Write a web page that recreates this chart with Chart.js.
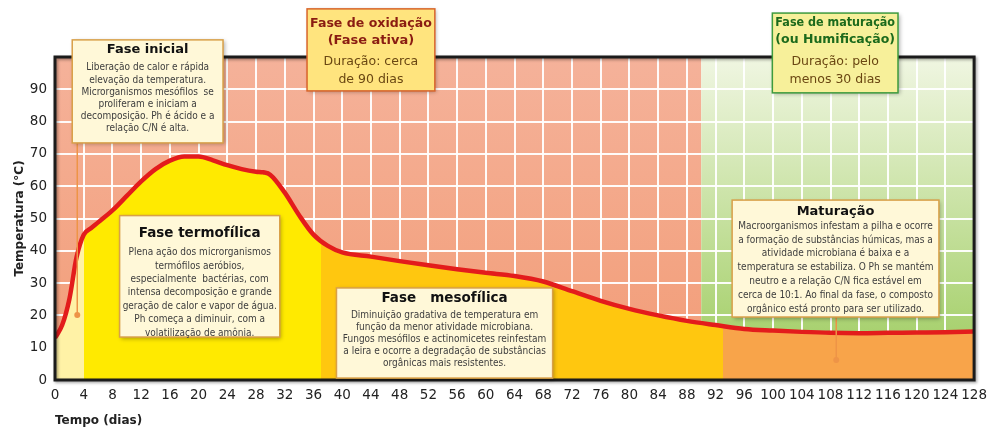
<!DOCTYPE html>
<html>
<head>
<meta charset="utf-8">
<script src="https://cdn.jsdelivr.net/npm/chart.js@4.4.1/dist/chart.umd.min.js"></script>
<style>
  html, body { margin: 0; padding: 0; background: #fff; }
  #wrap { width: 994px; height: 430px; }
</style>
</head>
<body>
<div id="wrap"><canvas id="compost-chart" width="994" height="430"></canvas></div>
<script>
// temperatura da leira ao longo do tempo
const days  = [0, 1, 2, 3, 4, 5, 6, 8, 10, 12, 14, 16, 18, 20, 22, 24, 26, 28, 29, 30, 32, 34, 36, 38, 40,
               44, 48, 52, 56, 60, 64, 68, 72, 76, 80, 84, 88, 92, 96, 100, 104, 108, 112, 116, 120, 124, 128];
const temps = [13, 17, 25, 38, 45, 47, 48.8, 52.5, 57, 61.5, 65.3, 67.9, 69.2, 69.2, 68, 66.5, 65.3, 64.5, 64.3, 63.5, 58, 51, 45, 41.5, 39.5,
               38.2, 36.8, 35.5, 34.3, 33.2, 32.2, 30.5, 27.5, 24.5, 22, 20, 18.3, 17, 15.8, 15.3, 14.9, 14.6, 14.5, 14.6, 14.7, 14.8, 15];

// fases (em dias) para o preenchimento sob a curva
const phaseBounds = [0, 4, 37, 93, 128];
const phaseColors = ['#fff2a6', '#ffea00', '#ffc70f', '#f8a44a'];

// fundo: fase de oxidação até 90 dias, maturação depois
const zoneBounds = [0, 90, 128];
const zoneColors = [['#f5b29a', '#f29c76'], ['#f0f6e2', '#9ccb5c']];

const xMin = 0, xMax = 128, xStep = 4;
const yMin = 0, yMax = 100, yStep = 10;

const FONT = "'DejaVu Sans', sans-serif";
const BODY_FONT = "'DejaVu Sans Condensed', 'DejaVu Sans', sans-serif";

const boxStyles = {
  cream:  { fill: '#fff8d8', border: '#d9a049', title: '#111', body: '#3d3d3d' },
  oxid:   { fill: '#ffe47e', border: '#d9652b', title: '#8a1c12', body: '#6a4712' },
  matur:  { fill: '#f7f09a', border: '#3e9b3e', title: '#1c6a1c', body: '#6a4712' }
};

// caixas de texto (coordenadas em dias / °C)
const notes = [
  { x0: 2.4, x1: 23.4, y0: 105.3, y1: 73.4, style: 'cream',
    title: ['Fase inicial'], titleSize: 13, titleY: 10, titleLead: 16,
    body: ['Liberação de calor e rápida', 'elevação da temperatura.', 'Microrganismos mesófilos  se',
           'proliferam e iniciam a', 'decomposição. Ph é ácido e a', 'relação C/N é alta.'],
    bodySize: 10, bodyY: 28, lead: 12.2, pin: { x: 3.1, y: 20.1 } },
  { x0: 35.1, x1: 52.9, y0: 114.9, y1: 89.5, style: 'oxid',
    title: ['Fase de oxidação', '(Fase ativa)'], titleSize: 13, titleY: 15, titleLead: 16.5,
    body: ['Duração: cerca', 'de 90 dias'], bodySize: 12.5, bodyY: 53, lead: 18 },
  { x0: 99.9, x1: 117.4, y0: 113.6, y1: 88.9, style: 'matur',
    title: ['Fase de maturação', '(ou Humificação)'], titleSize: 13, titleY: 10, titleLead: 17,
    body: ['Duração: pelo', 'menos 30 dias'], bodySize: 12.5, bodyY: 49, lead: 18 },
  { x0: 9.0, x1: 31.3, y0: 50.9, y1: 13.3, style: 'cream',
    title: ['Fase termofílica'], titleSize: 13.5, titleY: 18, titleLead: 16,
    body: ['Plena ação dos microrganismos', 'termófilos aeróbios,', 'especialmente  bactérias, com',
           'intensa decomposição e grande', 'geração de calor e vapor de água.', 'Ph começa a diminuir, com a',
           'volatilização de amônia.'],
    bodySize: 10, bodyY: 37, lead: 13.4 },
  { x0: 39.2, x1: 69.3, y0: 28.5, y1: 0.6, style: 'cream',
    title: ['Fase   mesofílica'], titleSize: 13.5, titleY: 11, titleLead: 16,
    body: ['Diminuição gradativa de temperatura em', 'função da menor atividade microbiana.',
           'Fungos mesófilos e actinomicetes reinfestam', 'a leira e ocorre a degradação de substâncias',
           'orgânicas mais resistentes.'],
    bodySize: 10, bodyY: 27, lead: 12 },
  { x0: 94.3, x1: 123.1, y0: 55.7, y1: 19.5, style: 'cream',
    title: ['Maturação'], titleSize: 13, titleY: 12, titleLead: 16,
    body: ['Macroorganismos infestam a pilha e ocorre', 'a formação de substâncias húmicas, mas a',
           'atividade microbiana é baixa e a', 'temperatura se estabiliza. O Ph se mantém',
           'neutro e a relação C/N fica estável em', 'cerca de 10:1. Ao final da fase, o composto',
           'orgânico está pronto para ser utilizado.'],
    bodySize: 10, bodyY: 26, lead: 13.9, pin: { x: 108.8, y: 6.2 } }
];

function phaseFill(context) {
  const chart = context.chart;
  const a = chart.chartArea, x = chart.scales.x;
  if (!a || !x) return phaseColors[1];
  const g = chart.ctx.createLinearGradient(a.left, 0, a.right, 0);
  const w = a.right - a.left;
  const f = v => Math.min(1, Math.max(0, (x.getPixelForValue(v) - a.left) / w));
  phaseColors.forEach((c, i) => {
    g.addColorStop(f(phaseBounds[i]), c);
    g.addColorStop(f(phaseBounds[i + 1]), c);
  });
  return g;
}

const zonePlugin = {
  id: 'zones',
  beforeDraw(chart) {
    const { ctx, chartArea: a, scales: { x } } = chart;
    ctx.save();
    zoneColors.forEach((c, i) => {
      const x0 = x.getPixelForValue(zoneBounds[i]);
      const x1 = x.getPixelForValue(zoneBounds[i + 1]);
      const g = ctx.createLinearGradient(0, a.top, 0, a.bottom);
      g.addColorStop(0, c[0]);
      g.addColorStop(1, c[1]);
      ctx.fillStyle = g;
      ctx.fillRect(x0, a.top, x1 - x0, a.bottom - a.top);
    });
    ctx.restore();
  }
};

const framePlugin = {
  id: 'frame',
  afterDatasetsDraw(chart) {
    const { ctx, chartArea: a } = chart;
    ctx.save();
    ctx.shadowColor = 'rgba(0,0,0,0.35)';
    ctx.shadowBlur = 3;
    ctx.shadowOffsetX = 1.5;
    ctx.shadowOffsetY = 1.5;
    ctx.strokeStyle = '#1b1b1b';
    ctx.lineWidth = 3;
    ctx.strokeRect(a.left, a.top, a.right - a.left, a.bottom - a.top);
    ctx.restore();
  }
};

const notesPlugin = {
  id: 'notes',
  afterDraw(chart) {
    const { ctx, scales: { x, y } } = chart;
    notes.forEach(n => {
      const st = boxStyles[n.style];
      const left = x.getPixelForValue(n.x0), right = x.getPixelForValue(n.x1);
      const top = y.getPixelForValue(n.y0), bottom = y.getPixelForValue(n.y1);
      const cx = (left + right) / 2, w = right - left;
      ctx.save();
      if (n.pin) {
        const px = x.getPixelForValue(n.pin.x), py = y.getPixelForValue(n.pin.y);
        ctx.strokeStyle = '#ee9447';
        ctx.lineWidth = 1.5;
        ctx.beginPath();
        ctx.moveTo(px, bottom);
        ctx.lineTo(px, py);
        ctx.stroke();
        ctx.fillStyle = '#ee9447';
        ctx.beginPath();
        ctx.arc(px, py, 3, 0, Math.PI * 2);
        ctx.fill();
      }
      ctx.shadowColor = 'rgba(0,0,0,0.3)';
      ctx.shadowBlur = 4;
      ctx.shadowOffsetX = 1.5;
      ctx.shadowOffsetY = 1.5;
      ctx.fillStyle = st.fill;
      ctx.fillRect(left, top, w, bottom - top);
      ctx.shadowColor = 'transparent';
      ctx.strokeStyle = st.border;
      ctx.lineWidth = 1.5;
      ctx.strokeRect(left, top, w, bottom - top);

      ctx.textAlign = 'center';
      ctx.textBaseline = 'middle';
      ctx.fillStyle = st.title;
      ctx.font = 'bold ' + n.titleSize + 'px ' + FONT;
      n.title.forEach((t, i) => ctx.fillText(t, cx, top + n.titleY + i * n.titleLead, w - 6));
      ctx.fillStyle = st.body;
      ctx.font = n.bodySize + 'px ' + (n.bodySize > 11 ? FONT : BODY_FONT);
      n.body.forEach((t, i) => ctx.fillText(t, cx, top + n.bodyY + i * n.lead, w - 6));
      ctx.restore();
    });
  }
};

const chartEl = document.getElementById('compost-chart');
new Chart(chartEl, {
  type: 'line',
  data: {
    datasets: [{
      data: days.map((d, i) => ({ x: d, y: temps[i] })),
      borderColor: '#e31c1c',
      borderWidth: 4.5,
      pointRadius: 0,
      cubicInterpolationMode: 'monotone',
      fill: 'origin',
      backgroundColor: phaseFill
    }]
  },
  options: {
    responsive: false,
    animation: false,
    layout: { padding: { top: 57, right: 19, left: 0, bottom: 0 } },
    plugins: { legend: { display: false }, tooltip: { enabled: false } },
    scales: {
      x: {
        type: 'linear', min: xMin, max: xMax,
        ticks: { stepSize: xStep, autoSkip: false, maxRotation: 0, color: '#222',
                 font: { family: FONT, size: 13.5 }, padding: 7 },
        grid: { color: 'rgba(255,255,255,0.95)', lineWidth: 2, drawTicks: false },
        border: { display: false },
        title: { display: true, text: 'Tempo (dias)', align: 'start', color: '#222',
                 font: { family: FONT, size: 12, weight: 'bold' }, padding: { top: 2, bottom: 2 } },
        afterFit: s => { s.height = 50; }
      },
      y: {
        min: yMin, max: yMax,
        ticks: { stepSize: yStep, color: '#222', font: { family: FONT, size: 13.5 }, padding: 8,
                 callback: v => (v === yMax ? '' : v) },
        grid: { color: 'rgba(255,255,255,0.95)', lineWidth: 2, drawTicks: false },
        border: { display: false },
        title: { display: true, text: 'Temperatura (°C)', color: '#222',
                 font: { family: FONT, size: 12, weight: 'bold' }, padding: { top: 13, bottom: 0 } },
        afterFit: s => { s.width = 55; }
      }
    }
  },
  plugins: [zonePlugin, framePlugin, notesPlugin]
});
</script>
</body>
</html>
